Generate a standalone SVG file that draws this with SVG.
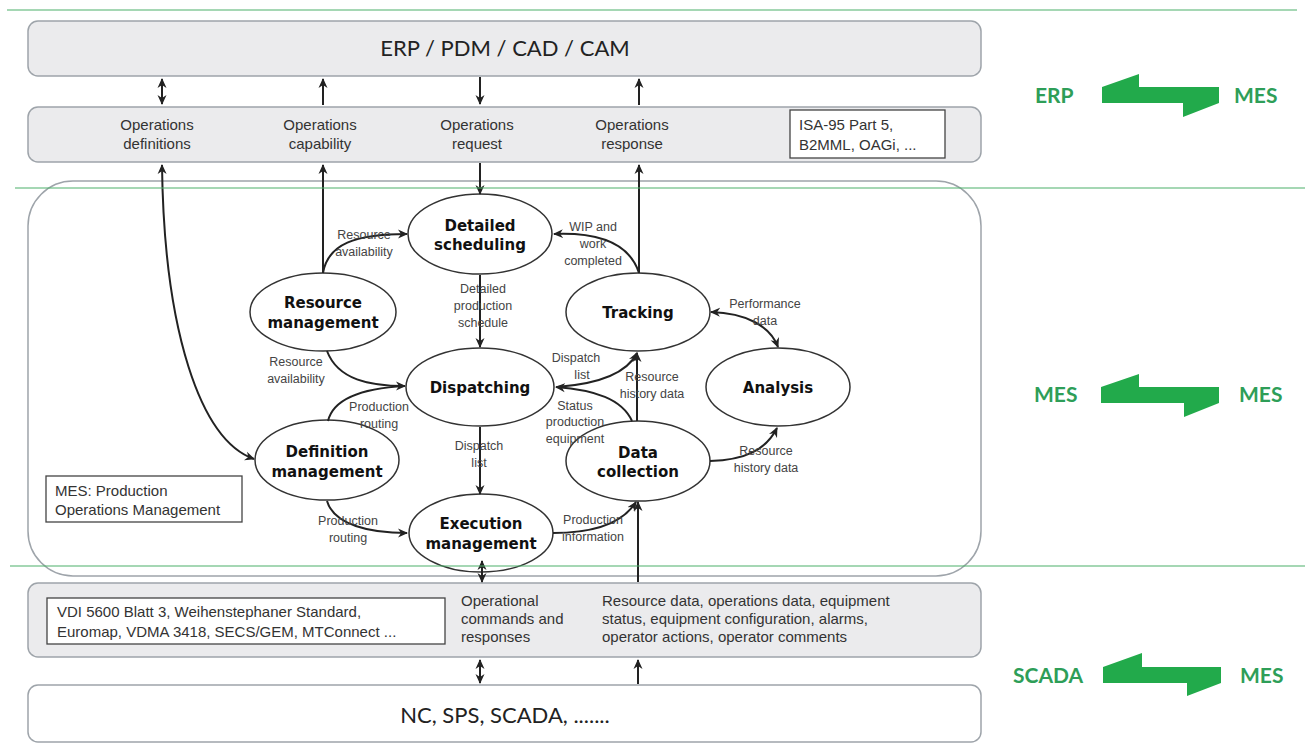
<svg xmlns="http://www.w3.org/2000/svg" width="1311" height="747" viewBox="0 0 1311 747">
  <style>
    .band { fill: #ebebed; stroke: #9ea4aa; stroke-width: 1.5; }
    .plain { fill: #ffffff; stroke: #9ea4aa; stroke-width: 1.5; }
    .tag { fill: #ffffff; stroke: #444; stroke-width: 1.3; }
    .title { font-family: Lato, "Open Sans", sans-serif; font-size: 22px; fill: #222; text-anchor: middle; }
    .small { font-family: "Liberation Sans", Arial, sans-serif; font-size: 15px; fill: #333; }
    .mid { text-anchor: middle; }
    .ell { fill: #ffffff; stroke: #333; stroke-width: 1.5; }
    .node { font-family: "DejaVu Sans", Verdana, sans-serif; font-weight: bold; font-size: 15px; fill: #111; text-anchor: middle; }
    .lbl { font-family: "Liberation Sans", Arial, sans-serif; font-size: 12.5px; fill: #444; text-anchor: middle; }
    .wire { fill: none; stroke: #222; stroke-width: 2; }
    .sep { stroke: #4caf6a; stroke-width: 1.2; }
    .flow { fill: #22aa4b; }
    .side { font-family: Lato, "Open Sans", sans-serif; font-weight: bold; font-size: 21px; fill: #2e9e58; }
  </style>
  <defs>
    <marker id="head" viewBox="0 0 10 10" refX="9" refY="5" markerWidth="10" markerHeight="10" markerUnits="userSpaceOnUse" orient="auto-start-reverse">
      <path d="M0,0.5 L10,5 L0,9.5 L3,5 z" fill="#222"/>
    </marker>
  </defs>

  <!-- ERP layer -->
  <g id="erp-box">
    <rect class="band" x="28" y="21" width="953" height="55" rx="10"/>
    <text class="title" x="505" y="56">ERP / PDM / CAD / CAM</text>
  </g>

  <!-- B2MML interface band -->
  <g id="interface-top">
    <rect class="band" x="28" y="107" width="953" height="55" rx="10"/>
    <text class="small mid" x="157" y="130">Operations</text>
    <text class="small mid" x="157" y="149">definitions</text>
    <text class="small mid" x="320" y="130">Operations</text>
    <text class="small mid" x="320" y="149">capability</text>
    <text class="small mid" x="477" y="130">Operations</text>
    <text class="small mid" x="477" y="149">request</text>
    <text class="small mid" x="632" y="130">Operations</text>
    <text class="small mid" x="632" y="149">response</text>
    <rect class="tag" x="790" y="110" width="155" height="48"/>
    <text class="small" x="799" y="130">ISA-95 Part 5,</text>
    <text class="small" x="799" y="150">B2MML, OAGi, ...</text>
  </g>

  <!-- MES region -->
  <g id="mes-region">
    <rect class="plain" x="28" y="181" width="953" height="395" rx="45"/>
  </g>

  <g id="mes-caption">
    <rect class="tag" x="46" y="476" width="196" height="46"/>
    <text class="small" x="55" y="496">MES: Production</text>
    <text class="small" x="55" y="515">Operations Management</text>
  </g>

  <!-- MES functions -->
  <g id="detailed-scheduling">
    <ellipse class="ell" cx="480" cy="234" rx="72" ry="40"/>
    <text class="node" x="480" y="231">Detailed</text>
    <text class="node" x="480" y="250">scheduling</text>
  </g>
  <g id="resource-management">
    <ellipse class="ell" cx="323" cy="312" rx="73" ry="39"/>
    <text class="node" x="323" y="308">Resource</text>
    <text class="node" x="323" y="328">management</text>
  </g>
  <g id="tracking">
    <ellipse class="ell" cx="638" cy="312" rx="72" ry="39"/>
    <text class="node" x="638" y="318">Tracking</text>
  </g>
  <g id="dispatching">
    <ellipse class="ell" cx="480" cy="387" rx="74" ry="39"/>
    <text class="node" x="480" y="393">Dispatching</text>
  </g>
  <g id="analysis">
    <ellipse class="ell" cx="778" cy="387" rx="72" ry="39"/>
    <text class="node" x="778" y="393">Analysis</text>
  </g>
  <g id="definition-management">
    <ellipse class="ell" cx="327" cy="460" rx="72" ry="40"/>
    <text class="node" x="327" y="457">Definition</text>
    <text class="node" x="327" y="477">management</text>
  </g>
  <g id="data-collection">
    <ellipse class="ell" cx="638" cy="461" rx="72" ry="40"/>
    <text class="node" x="638" y="458">Data</text>
    <text class="node" x="638" y="477">collection</text>
  </g>
  <g id="execution-management">
    <ellipse class="ell" cx="481" cy="533" rx="72" ry="39"/>
    <text class="node" x="481" y="529">Execution</text>
    <text class="node" x="481" y="549">management</text>
  </g>

  <!-- field interface band -->
  <g id="interface-bottom">
    <rect class="band" x="28" y="583" width="953" height="74" rx="10"/>
    <rect class="tag" x="47" y="598" width="398" height="46"/>
    <text class="small" x="57" y="617">VDI 5600 Blatt 3, Weihenstephaner Standard,</text>
    <text class="small" x="57" y="637">Euromap, VDMA  3418, SECS/GEM, MTConnect ...</text>
    <text class="small" x="461" y="606">Operational</text>
    <text class="small" x="461" y="624">commands and</text>
    <text class="small" x="461" y="642">responses</text>
    <text class="small" x="602" y="606">Resource data, operations data, equipment</text>
    <text class="small" x="602" y="624">status, equipment configuration, alarms,</text>
    <text class="small" x="602" y="642">operator actions, operator comments</text>
  </g>

  <!-- control level -->
  <g id="control-box">
    <rect class="plain" x="28" y="685" width="953" height="57" rx="10"/>
    <text class="title" x="505" y="723">NC, SPS, SCADA, .......</text>
  </g>

  <!-- connectors -->
  <g id="connectors">
    <!-- ERP <-> interface band -->
    <line class="wire" x1="162" y1="79" x2="162" y2="104" marker-start="url(#head)" marker-end="url(#head)"/>
    <line class="wire" x1="323" y1="105" x2="323" y2="79" marker-end="url(#head)"/>
    <line class="wire" x1="480" y1="77" x2="480" y2="104" marker-end="url(#head)"/>
    <line class="wire" x1="639" y1="105" x2="639" y2="79" marker-end="url(#head)"/>

    <!-- interface band <-> MES functions -->
    <path class="wire" d="M162,165 C164,330 200,440 254,459" marker-start="url(#head)" marker-end="url(#head)"/>
    <line class="wire" x1="323" y1="273" x2="323" y2="165" marker-end="url(#head)"/>
    <line class="wire" x1="480" y1="163" x2="480" y2="194" marker-end="url(#head)"/>
    <line class="wire" x1="639" y1="273" x2="639" y2="165" marker-end="url(#head)"/>

    <!-- resource management -> detailed scheduling -->
    <path class="wire" d="M323,273 C328,244 355,234 407,234" marker-end="url(#head)"/>
    <!-- tracking -> detailed scheduling -->
    <path class="wire" d="M639,273 C630,245 602,232 554,234" marker-end="url(#head)"/>
    <!-- detailed scheduling -> dispatching -->
    <line class="wire" x1="480" y1="275" x2="480" y2="347" marker-end="url(#head)"/>
    <!-- resource management -> dispatching -->
    <path class="wire" d="M327,351 C338,380 370,386 405,386" marker-end="url(#head)"/>
    <!-- definition management -> dispatching -->
    <path class="wire" d="M328,421 C334,396 368,388 405,386"/>
    <!-- tracking <-> analysis -->
    <path class="wire" d="M711,312 C746,313 770,326 778,347" marker-start="url(#head)" marker-end="url(#head)"/>
    <!-- dispatching -> tracking -->
    <path class="wire" d="M557,387 C598,384 627,373 637,353" marker-end="url(#head)"/>
    <!-- data collection -> tracking -->
    <line class="wire" x1="637" y1="421" x2="637" y2="353" marker-end="url(#head)"/>
    <!-- data collection -> dispatching -->
    <path class="wire" d="M632,421 C622,399 595,390 556,387" marker-end="url(#head)"/>
    <!-- data collection -> analysis -->
    <path class="wire" d="M710,461 C745,460 766,450 777,428" marker-end="url(#head)"/>
    <!-- dispatching -> execution management -->
    <line class="wire" x1="480" y1="427" x2="480" y2="494" marker-end="url(#head)"/>
    <!-- definition management -> execution management -->
    <path class="wire" d="M327,501 C334,525 370,533 407,533" marker-end="url(#head)"/>
    <!-- execution management -> data collection -->
    <path class="wire" d="M553,533 C598,533 624,521 636,502" marker-end="url(#head)"/>

    <!-- MES functions <-> field interface band -->
    <line class="wire" x1="482" y1="561" x2="482" y2="582" marker-start="url(#head)" marker-end="url(#head)"/>
    <line class="wire" x1="638" y1="582" x2="638" y2="502" marker-end="url(#head)"/>

    <!-- field interface band <-> control level -->
    <line class="wire" x1="480" y1="660" x2="480" y2="683" marker-start="url(#head)" marker-end="url(#head)"/>
    <line class="wire" x1="638" y1="684" x2="638" y2="660" marker-end="url(#head)"/>
  </g>

  <!-- connector labels -->
  <g id="connector-labels">
    <text class="lbl" x="364" y="239">Resource</text>
    <text class="lbl" x="364" y="256">availability</text>
    <text class="lbl" x="483" y="293">Detailed</text>
    <text class="lbl" x="483" y="310">production</text>
    <text class="lbl" x="483" y="327">schedule</text>
    <text class="lbl" x="593" y="231">WIP and</text>
    <text class="lbl" x="593" y="248">work</text>
    <text class="lbl" x="593" y="265">completed</text>
    <text class="lbl" x="765" y="308">Performance</text>
    <text class="lbl" x="765" y="325">data</text>
    <text class="lbl" x="296" y="366">Resource</text>
    <text class="lbl" x="296" y="383">availability</text>
    <text class="lbl" x="576" y="362">Dispatch</text>
    <text class="lbl" x="582" y="379">list</text>
    <text class="lbl" x="652" y="381">Resource</text>
    <text class="lbl" x="652" y="398">history data</text>
    <text class="lbl" x="379" y="411">Production</text>
    <text class="lbl" x="379" y="428">routing</text>
    <text class="lbl" x="575" y="410">Status</text>
    <text class="lbl" x="575" y="426">production</text>
    <text class="lbl" x="575" y="443">equipment</text>
    <text class="lbl" x="479" y="450">Dispatch</text>
    <text class="lbl" x="479" y="467">list</text>
    <text class="lbl" x="766" y="455">Resource</text>
    <text class="lbl" x="766" y="472">history data</text>
    <text class="lbl" x="348" y="525">Production</text>
    <text class="lbl" x="348" y="542">routing</text>
    <text class="lbl" x="593" y="524">Production</text>
    <text class="lbl" x="593" y="541">information</text>
  </g>

  <!-- layer separators -->
  <g id="separators">
    <line class="sep" x1="7" y1="10" x2="1297" y2="10"/>
    <line class="sep" x1="15" y1="188" x2="1305" y2="188"/>
    <line class="sep" x1="10" y1="566" x2="1305" y2="566"/>
  </g>

  <!-- integration direction markers -->
  <g id="erp-mes">
    <text class="side" x="1035" y="103">ERP</text>
    <polygon class="flow" points="1102,87 1139,74 1139,87 1219,87 1219,103 1183,117 1183,103 1102,103"/>
    <text class="side" x="1234" y="103">MES</text>
  </g>
  <g id="mes-mes">
    <text class="side" x="1034" y="402">MES</text>
    <polygon class="flow" points="1101,387 1139,374 1139,387 1219,387 1219,403 1184,417 1184,403 1101,403"/>
    <text class="side" x="1239" y="402">MES</text>
  </g>
  <g id="scada-mes">
    <text class="side" x="1013" y="683">SCADA</text>
    <polygon class="flow" points="1103,667 1142,653 1142,667 1221,667 1221,683 1187,696 1187,683 1103,683"/>
    <text class="side" x="1240" y="683">MES</text>
  </g>
</svg>
